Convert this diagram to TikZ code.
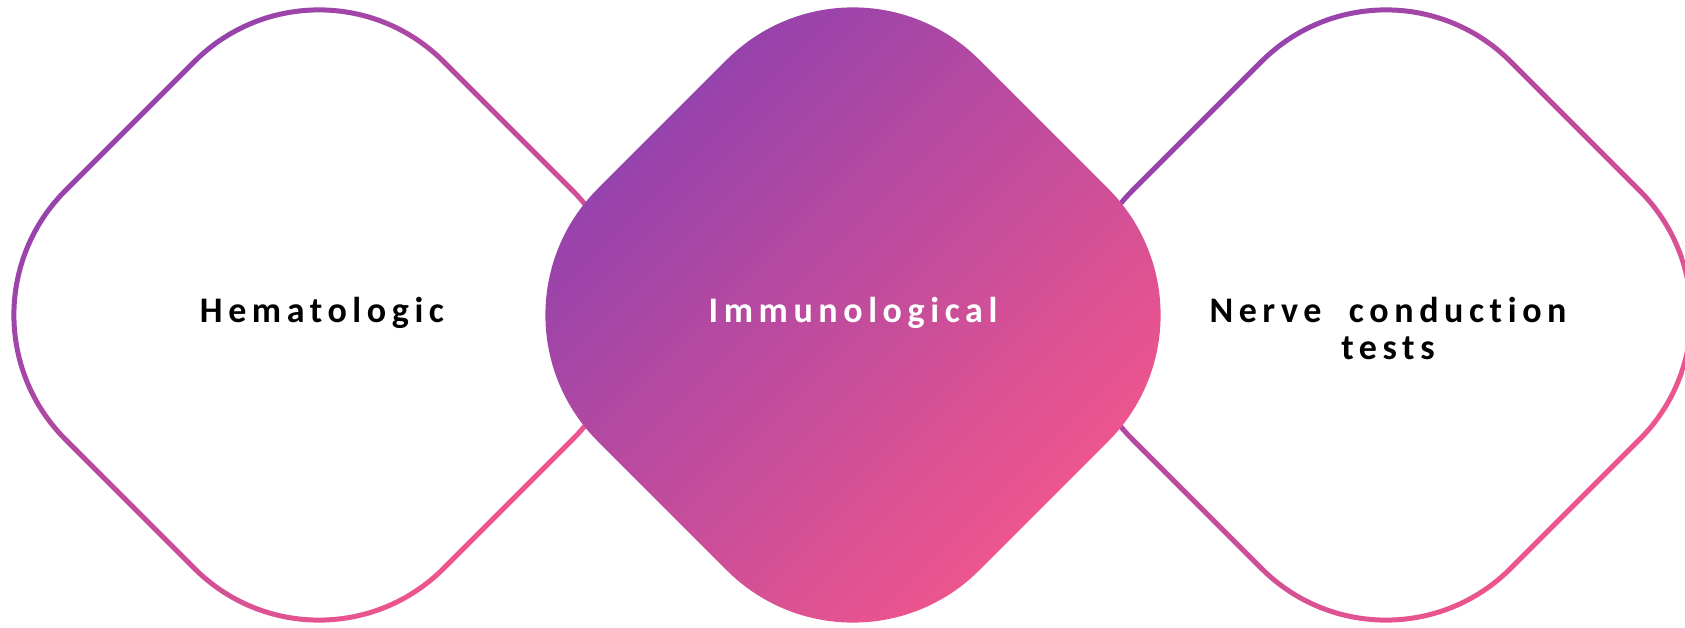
\documentclass[tikz,border=0pt]{standalone}
\usepackage{fontspec}
\setmainfont{Carlito}
\newfontfamily\lblfont[LetterSpace=15.5,Ligatures=NoCommon,WordSpace=2]{Carlito}
\definecolor{gpurple}{RGB}{142,65,175}
\definecolor{gpink}{RGB}{245,87,138}
\begin{document}
\begin{tikzpicture}[x=1pt,y=1pt,
  lbl/.style={font=\lblfont\bfseries\fontsize{36}{36}\selectfont, align=center, inner sep=0pt},
  grad/.style={top color=gpurple, bottom color=gpink, shading angle=45},
  pics/rdring/.style={code={
    \shade[grad, even odd rule]
      (-126.22,255.32) arc[start angle=135,end angle=45,radius=178.5]
        -- ++(129.1,-129.1) arc[start angle=45,end angle=-45,radius=178.5]
        -- ++(-129.1,-129.1) arc[start angle=-45,end angle=-135,radius=178.5]
        -- ++(-129.1,129.1) arc[start angle=-135,end angle=-225,radius=178.5] -- cycle
      (-122.68,251.78) arc[start angle=135,end angle=45,radius=173.5]
        -- ++(129.1,-129.1) arc[start angle=45,end angle=-45,radius=173.5]
        -- ++(-129.1,-129.1) arc[start angle=-45,end angle=-135,radius=173.5]
        -- ++(-129.1,129.1) arc[start angle=-135,end angle=-225,radius=173.5] -- cycle;
  }},
  pics/rdfill/.style={code={
    \shade[grad]
      (-126.22,255.32) arc[start angle=135,end angle=45,radius=178.5]
        -- ++(129.1,-129.1) arc[start angle=45,end angle=-45,radius=178.5]
        -- ++(-129.1,-129.1) arc[start angle=-45,end angle=-135,radius=178.5]
        -- ++(-129.1,129.1) arc[start angle=-135,end angle=-225,radius=178.5] -- cycle;
  }}]
\useasboundingbox (0,0) rectangle (1685,627);
\clip (0,0) rectangle (1685,627);
\fill[white] (0,0) rectangle (1685,627);
\pic at (319,312) {rdring};
\pic at (1386,312) {rdring};
\pic at (853,312) {rdfill};
\node[lbl, anchor=base] (hem) at (322,304) {Hematologic};
\node[lbl, anchor=base, text=white] (imm) at (853,304) {Immunological};
\node[lbl, anchor=base] (nct) at (1388,268) {Nerve conduction\\tests};
\end{tikzpicture}
\end{document}
